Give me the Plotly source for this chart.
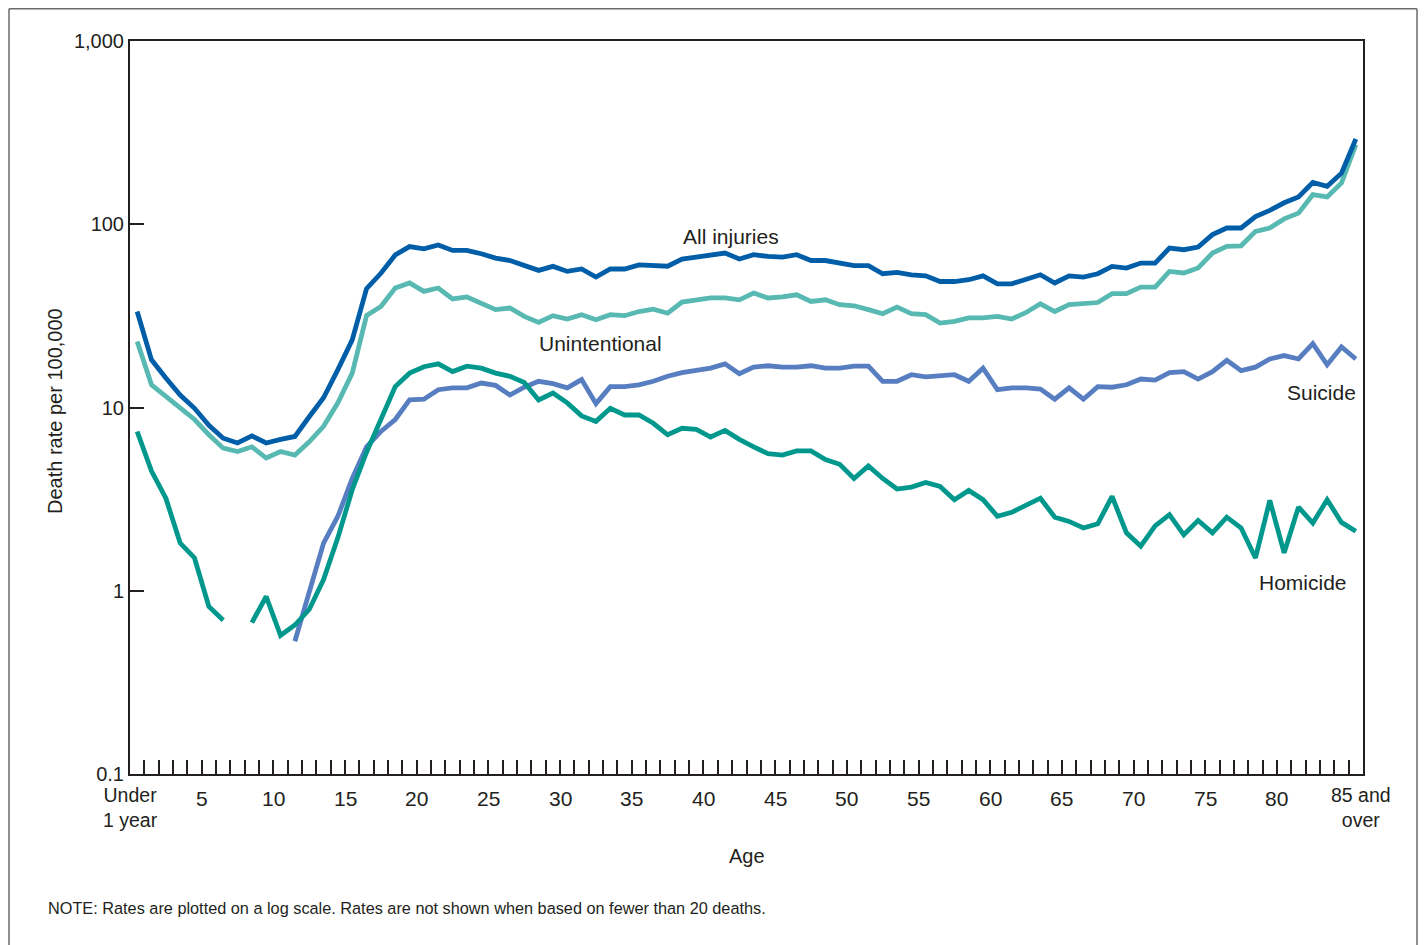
import plotly.graph_objects as go

# ---- data (ages 0 = "Under 1 year" ... 85 = "85 and over") ----
ages = list(range(86))

all_injuries = [33.4, 18.2, 14.5, 11.7, 9.9, 8.0, 6.8, 6.4, 7.0, 6.4,
                6.7, 6.95, 8.9, 11.3, 16.1, 23.4, 44.5, 54, 68, 75.5,
                73.5, 77, 72, 72, 69, 65.4, 63.4, 59.4, 56, 58.9,
                55.3, 57, 51.5, 57, 57, 60, 59.2, 59, 64.5, 66.2,
                67.3, 69.6, 64.6, 68.2, 66.7, 66.2, 68.2, 63.4, 63.4, 61.3,
                59.4, 59.4, 53.7, 54.6, 53, 52.3, 48.7, 48.7, 49.8, 52.3,
                47.3, 47.3, 49.8, 53, 47.8, 52.3, 51.5, 53.7, 58.9, 57.7,
                61.4, 61.4, 74.1, 72.6, 75.1, 87.8, 95.4, 95.4, 110, 119,
                131, 141, 169, 161, 190, 292]

unintentional = [22.9, 13.3, 11.5, 9.97, 8.6, 7.1, 6.0, 5.75, 6.1, 5.3,
                 5.75, 5.5, 6.5, 7.9, 10.6, 15.4, 31.8, 35.6, 44.9, 47.8,
                 43, 44.9, 39.1, 40.1, 37.2, 34.2, 34.9, 31.4, 29.1, 31.7,
                 30.4, 32.1, 30.1, 32.1, 31.7, 33.4, 34.4, 32.7, 37.6, 38.3,
                 39.6, 39.6, 38.7, 42.1, 39.6, 40.1, 41.2, 37.9, 38.7, 36.4,
                 35.9, 34.2, 32.5, 35.3, 32.5, 32.1, 28.9, 29.5, 30.8, 30.8,
                 31.4, 30.4, 33, 36.8, 33.4, 36.4, 36.8, 37.4, 41.8, 41.8,
                 45.4, 45.4, 55.3, 54.2, 57.7, 69.6, 75.7, 76.3, 91.4, 95.4,
                 107, 115, 145, 141, 168, 272]

suicide = [None, None, None, None, None, None, None, None, None, None,
           None, 0.53, 1.0, 1.82, 2.55, 4.1, 6.1, 7.4, 8.6, 11.0,
           11.1, 12.5, 12.8, 12.8, 13.6, 13.2, 11.7, 12.9, 13.9, 13.5,
           12.8, 14.2, 10.5, 13.0, 13.0, 13.3, 13.9, 14.8, 15.5, 15.9,
           16.4, 17.3, 15.3, 16.6, 16.9, 16.6, 16.6, 16.9, 16.4, 16.4,
           16.8, 16.8, 13.9, 13.9, 15.1, 14.7, 14.9, 15.1, 13.9, 16.4,
           12.5, 12.8, 12.8, 12.6, 11.1, 12.8, 11.1, 13.0, 12.9, 13.3,
           14.3, 14.1, 15.5, 15.7, 14.3, 15.7, 18.1, 15.9, 16.6, 18.4,
           19.2, 18.4, 22.3, 17.1, 21.4, 18.4]

homicide = [7.4, 4.5, 3.2, 1.82, 1.51, 0.82, 0.69, None, 0.67, 0.93,
            0.57, 0.65, 0.79, 1.15, 1.95, 3.56, 5.7, 8.6, 13.0, 15.4,
            16.7, 17.3, 15.7, 16.8, 16.4, 15.4, 14.8, 13.7, 11.0, 12.0,
            10.6, 9.0, 8.4, 9.9, 9.1, 9.1, 8.2, 7.1, 7.7, 7.6,
            6.9, 7.5, 6.7, 6.1, 5.6, 5.5, 5.8, 5.8, 5.2, 4.9,
            4.1, 4.8, 4.1, 3.59, 3.68, 3.9, 3.71, 3.14, 3.53, 3.14,
            2.55, 2.68, 2.95, 3.2, 2.52, 2.39, 2.2, 2.32, 3.27, 2.07,
            1.75, 2.26, 2.6, 2.02, 2.42, 2.07, 2.52, 2.2, 1.51, 3.11,
            1.61, 2.86, 2.34, 3.14, 2.36, 2.11]

x_tick_ages = [5, 10, 15, 20, 25, 30, 35, 40, 45, 50, 55, 60, 65, 70, 75, 80]
y_tick_vals = [0.1, 1, 10, 100, 1000]
y_tick_text = ["0.1", "1", "10", "100", "1,000"]

series_names = ["All injuries", "Unintentional", "Suicide", "Homicide"]
series_data = [all_injuries, unintentional, suicide, homicide]
series_colors = ["#005ea8", "#58b9b3", "#577ec0", "#00988d"]

# ---- figure ----
FONT = "Liberation Sans, Arial, Helvetica, sans-serif"
INK = "#231f20"
OFF = 8                      # page body margin in the browser
W, H = 1426 - OFF, 945 - OFF
L, R, T, B = 122, 63, 33, 171
PW, PH = W - L - R, H - T - B


def px_x(px):  # screen pixel -> paper coordinate
    return (px - OFF - L) / PW


def px_y(py):
    return (H - B - (py - OFF)) / PH


xs = [a + 0.5 for a in ages]

fig = go.Figure()
for idx in [2, 3, 1, 0]:
    fig.add_trace(go.Scatter(
        x=xs, y=series_data[idx], mode="lines", name=series_names[idx],
        line=dict(color=series_colors[idx], width=4.8),
        connectgaps=False, hoverinfo="skip", showlegend=False,
    ))

fig.update_layout(
    width=W, height=H,
    margin=dict(l=L, r=R, t=T, b=B),
    paper_bgcolor="white", plot_bgcolor="white",
    font=dict(family=FONT, color=INK, size=20),
    showlegend=False,
)

fig.update_xaxes(
    range=[0, 86], tickmode="array", tickvals=list(range(1, 86)),
    ticks="inside", ticklen=14, tickwidth=2, tickcolor=INK,
    showticklabels=False, showgrid=False, zeroline=False,
    showline=True, linecolor=INK, linewidth=2, mirror=True,
)
fig.update_yaxes(
    type="log", range=[-1, 3], tickmode="array",
    tickvals=y_tick_vals, ticktext=y_tick_text,
    ticks="inside", ticklen=14, tickwidth=2, tickcolor=INK,
    tickfont=dict(size=20, family=FONT, color=INK),
    showgrid=False, zeroline=False,
    showline=True, linecolor=INK, linewidth=2, mirror=True,
)

ann = []
for a in x_tick_ages:
    ann.append(dict(x=a, xref="x", y=px_y(798), yref="paper", text=str(a),
                    showarrow=False, xanchor="center", yanchor="middle",
                    font=dict(size=21)))
ann.append(dict(x=0, xref="x", y=px_y(808), yref="paper", text="Under<br>1 year",
                showarrow=False, xanchor="center", yanchor="middle", align="center",
                font=dict(size=19.5)))
ann.append(dict(x=85.85, xref="x", y=px_y(808), yref="paper", text="85 and<br>over",
                showarrow=False, xanchor="center", yanchor="middle", align="center",
                font=dict(size=19.5)))
ann.append(dict(x=px_x(747), xref="paper", y=px_y(856), yref="paper", text="Age",
                showarrow=False, xanchor="center", yanchor="middle", font=dict(size=20)))
ann.append(dict(x=px_x(55), xref="paper", y=px_y(411), yref="paper",
                text="Death rate per 100,000", textangle=-90,
                showarrow=False, xanchor="center", yanchor="middle", font=dict(size=20)))
ann.append(dict(x=px_x(46), xref="paper", y=px_y(908), yref="paper",
                text="NOTE: Rates are plotted on a log scale. Rates are not shown when based on fewer than 20 deaths.",
                showarrow=False, xanchor="left", yanchor="middle", font=dict(size=16.3)))
label_pos = [(731, 237), (600, 343), (1321, 392), (1303, 582)]
for name, (lx, ly) in zip(series_names, label_pos):
    ann.append(dict(x=px_x(lx), xref="paper", y=px_y(ly), yref="paper", text=name,
                    showarrow=False, xanchor="center", yanchor="middle", font=dict(size=21)))
fig.update_layout(annotations=ann)

frame = dict(color="#6b6b6b", width=1.5)
fig.update_layout(shapes=[
    dict(type="line", xref="paper", yref="paper", x0=px_x(9), x1=px_x(9),
         y0=px_y(8.7), y1=px_y(960), line=frame),
    dict(type="line", xref="paper", yref="paper", x0=px_x(9), x1=px_x(1417),
         y0=px_y(8.7), y1=px_y(8.7), line=frame),
    dict(type="line", xref="paper", yref="paper", x0=px_x(1417), x1=px_x(1417),
         y0=px_y(8.7), y1=px_y(960), line=frame),
])

fig.write_html("out.html")
